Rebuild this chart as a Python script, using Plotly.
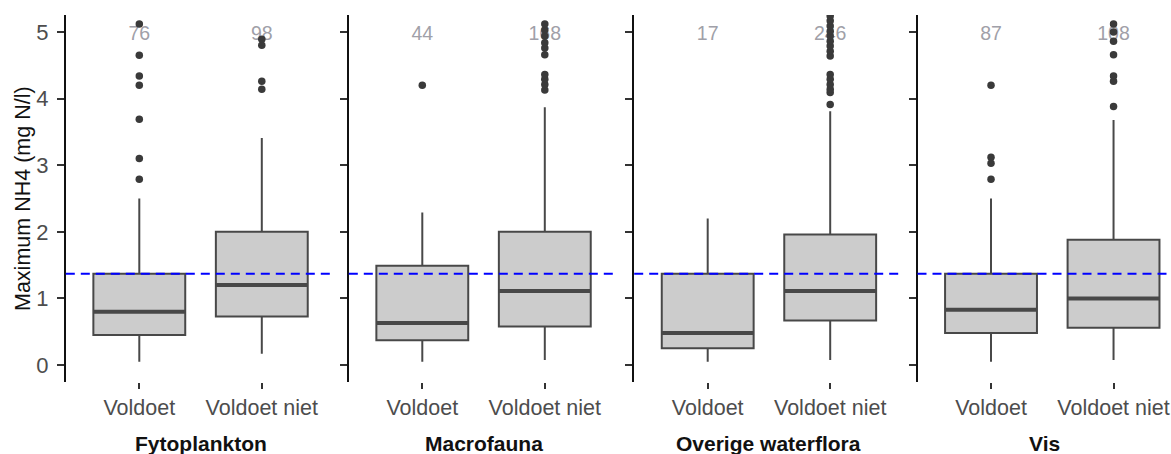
import plotly.graph_objects as go

# ---------------- data ----------------
panels = ["Fytoplankton", "Macrofauna", "Overige waterflora", "Vis"]
groups = ["Voldoet", "Voldoet niet"]
n_counts = [[76, 98], [44, 168], [17, 246], [87, 108]]

q1 = [[0.45, 0.73], [0.37, 0.58], [0.25, 0.67], [0.48, 0.56]]
median = [[0.80, 1.20], [0.63, 1.11], [0.48, 1.11], [0.83, 1.00]]
q3 = [[1.37, 2.00], [1.49, 2.00], [1.37, 1.96], [1.37, 1.88]]
lower_whisker = [[0.05, 0.17], [0.05, 0.075], [0.05, 0.075], [0.05, 0.075]]
upper_whisker = [[2.50, 3.41], [2.29, 3.87], [2.20, 3.81], [2.50, 3.68]]

outliers = [
    [[2.79, 3.10, 3.69, 4.20, 4.34, 4.65, 5.12], [4.14, 4.26, 4.80, 4.89]],
    [[4.20], [4.13, 4.21, 4.29, 4.36, 4.66, 4.76, 4.84, 4.94, 5.03, 5.12]],
    [[], [3.91, 4.09, 4.14, 4.21, 4.29, 4.36, 4.64, 4.71, 4.79, 4.86, 4.94,
          5.01, 5.09, 5.17, 5.24]],
    [[2.79, 3.03, 3.12, 4.20], [3.88, 4.26, 4.34, 4.66, 4.86, 5.00, 5.12]],
]

threshold = 1.37
y_ticks = [0, 1, 2, 3, 4, 5]

# ---------------- layout constants ----------------
W, H = 1171, 454
panel_px = [(65.8, 335.3), (348.8, 618.3), (634.2, 903.7), (917.5, 1171.0)]
x_ranges = [[-0.6, 1.6], [-0.6, 1.6], [-0.6, 1.6], [-0.6, 1.469]]
BOX_W = 0.75
FILL = "#CCCCCC"
LINE = "#484848"
FONT = "Liberation Sans, Arial, sans-serif"

fig = go.Figure()

for p in range(len(panels)):
    xa = "x" if p == 0 else f"x{p+1}"
    ya = "y" if p == 0 else f"y{p+1}"
    xpos = list(range(len(groups)))

    # n labels (drawn first, under the points)
    fig.add_trace(go.Scatter(
        x=xpos, y=[4.95] * len(groups), mode="text",
        text=[str(n) for n in n_counts[p]],
        textfont=dict(family=FONT, size=19.5, color="#A0A0A8"),
        xaxis=xa, yaxis=ya, showlegend=False, hoverinfo="skip"))

    for g in range(len(groups)):
        fig.add_trace(go.Box(
            x=[xpos[g]], q1=[q1[p][g]], median=[median[p][g]], q3=[q3[p][g]],
            lowerfence=[lower_whisker[p][g]], upperfence=[upper_whisker[p][g]],
            boxpoints=False, width=BOX_W, whiskerwidth=0,
            fillcolor=FILL, line=dict(color=LINE, width=2),
            xaxis=xa, yaxis=ya, showlegend=False))
        # thick median line
        fig.add_trace(go.Scatter(
            x=[xpos[g] - BOX_W / 2, xpos[g] + BOX_W / 2],
            y=[median[p][g], median[p][g]], mode="lines",
            line=dict(color=LINE, width=4),
            xaxis=xa, yaxis=ya, showlegend=False, hoverinfo="skip"))
        # outliers
        if outliers[p][g]:
            fig.add_trace(go.Scatter(
                x=[xpos[g]] * len(outliers[p][g]), y=outliers[p][g],
                mode="markers",
                marker=dict(color="#3A3A3A", size=7.5),
                xaxis=xa, yaxis=ya, showlegend=False, cliponaxis=True))

    # reference line
    fig.add_shape(type="line", xref=f"{xa} domain", yref=ya,
                  x0=0, x1=1, y0=threshold, y1=threshold,
                  line=dict(color="#0000FF", width=2, dash="9px,6px"),
                  layer="above")

    dom = [panel_px[p][0] / W, panel_px[p][1] / W]
    xkey = "xaxis" if p == 0 else f"xaxis{p+1}"
    ykey = "yaxis" if p == 0 else f"yaxis{p+1}"
    fig.update_layout(**{
        xkey: dict(domain=dom, range=x_ranges[p], anchor=ya,
                   tickmode="array", tickvals=xpos, ticktext=groups,
                   showline=False, showgrid=False, zeroline=False,
                   ticks="outside", ticklen=6, tickwidth=1.5, tickcolor="#333333",
                   tickfont=dict(family=FONT, size=21.5, color="#4D4D4D"),
                   automargin=False, fixedrange=True),
        ykey: dict(domain=[0, 1], range=[-0.255, 5.255], anchor=xa,
                   tickmode="array", tickvals=y_ticks,
                   showticklabels=(p == 0),
                   showline=True, linecolor="#111111", linewidth=2,
                   showgrid=False, zeroline=False,
                   ticks="outside", ticklen=7, tickwidth=1.5, tickcolor="#333333",
                   tickfont=dict(family=FONT, size=22, color="#4D4D4D"),
                   ticklabelstandoff=4,
                   automargin=False, fixedrange=True),
    })

    # facet label under the panel
    fig.add_annotation(
        x=(panel_px[p][0] + min(panel_px[p][1], panel_px[p][0] + 269.5)) / 2 / W,
        xref="paper", y=-0.168, yref="paper",
        text=f"<b>{panels[p]}</b>", showarrow=False,
        xanchor="center", yanchor="middle",
        font=dict(family=FONT, size=21, color="#111111"))

# y axis title
fig.add_annotation(
    x=22.5 / W, xref="paper", y=0.5, yref="paper",
    text="Maximum NH4 (mg N/l)", textangle=-90, showarrow=False,
    xanchor="center", yanchor="middle",
    font=dict(family=FONT, size=21.5, color="#111111"))

fig.update_layout(
    width=W, height=H,
    margin=dict(l=0, r=0, t=15, b=72),
    paper_bgcolor="white", plot_bgcolor="white",
    showlegend=False,
)

fig.write_html(
    "out.html",
    config={"displayModeBar": False},
    post_script="document.body.style.margin='0';document.body.style.overflow='hidden';",
)
